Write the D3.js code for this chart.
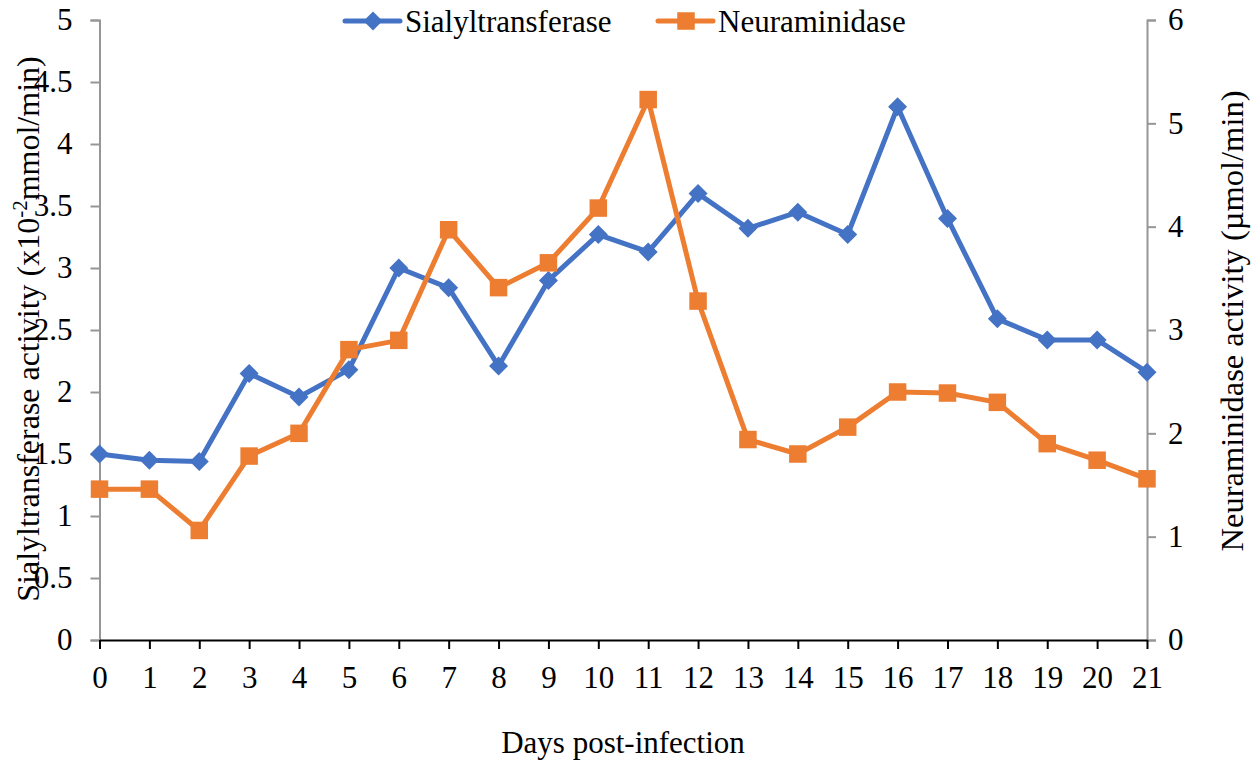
<!DOCTYPE html>
<html>
<head>
<meta charset="utf-8">
<script src="https://cdn.jsdelivr.net/npm/d3@7/dist/d3.min.js"></script>
<style>
  html, body { margin: 0; padding: 0; background: #fff; }
  svg { display: block; }
  svg text { font-family: "Liberation Serif", "Times New Roman", serif; }
</style>
</head>
<body>
<svg id="chart" width="1260" height="765"></svg>
<script>
// Days post-infection
const days = [0, 1, 2, 3, 4, 5, 6, 7, 8, 9, 10, 11, 12, 13, 14, 15, 16, 17, 18, 19, 20, 21];
// Sialyltransferase activity (x10^-2 mmol/min), left axis
const sialyltransferase = [1.50, 1.45, 1.44, 2.15, 1.96, 2.18, 3.00, 2.84, 2.21, 2.90, 3.27, 3.13,
                           3.60, 3.32, 3.45, 3.27, 4.30, 3.40, 2.59, 2.42, 2.42, 2.16];
// Neuraminidase activity (µmol/min), right axis
const neuraminidase = [1.46, 1.46, 1.06, 1.78, 2.00, 2.81, 2.90, 3.97, 3.41, 3.65, 4.18, 5.23,
                       3.28, 1.94, 1.80, 2.06, 2.40, 2.39, 2.30, 1.90, 1.74, 1.56];
const leftTicks = [0, 0.5, 1, 1.5, 2, 2.5, 3, 3.5, 4, 4.5, 5];
const rightTicks = [0, 1, 2, 3, 4, 5, 6];
const seriesNames = ["Sialyltransferase", "Neuraminidase"];

const BLUE = "#4472C4", ORANGE = "#ED7D31", GRAY = "#969696";
const FS = 31;
const FONT = "Liberation Serif";

const svg = d3.select("#chart");
const plot = { left: 99.5, right: 1147, top: 20, bottom: 640 };

const x = d3.scaleLinear().domain([0, 21]).range([plot.left, plot.right]);
const yL = d3.scaleLinear().domain([0, 5]).range([plot.bottom, plot.top]);
const yR = d3.scaleLinear().domain([0, 6]).range([plot.bottom, plot.top]);

// Left axis
const gL = svg.append("g").attr("transform", `translate(${plot.left},0)`)
  .call(d3.axisLeft(yL).tickValues(leftTicks).tickSize(9).tickPadding(18)
        .tickFormat(d => String(d)));
// Right axis
const gR = svg.append("g").attr("transform", `translate(${plot.right},0)`)
  .call(d3.axisRight(yR).tickValues(rightTicks).tickSize(9).tickPadding(12)
        .tickFormat(d => String(d)));
// Bottom axis
const gX = svg.append("g").attr("transform", `translate(0,${plot.bottom})`)
  .call(d3.axisBottom(x).tickValues(days).tickSize(9).tickSizeOuter(0).tickPadding(17)
        .tickFormat(d => String(d)));

[gL, gR, gX].forEach(g => {
  g.attr("font-family", FONT).attr("font-size", FS);
  g.selectAll(".tick text").attr("fill", "#000");
});
[gL, gR].forEach(g => {
  g.select(".domain").attr("stroke", GRAY).attr("stroke-width", 2);
  g.selectAll(".tick line").attr("stroke", GRAY).attr("stroke-width", 2);
});
gX.select(".domain").attr("stroke", "#000").attr("stroke-width", 2);
gX.selectAll(".tick line").attr("stroke", "#000").attr("stroke-width", 2);

// Series lines and markers
const diamond = d3.symbol().type(d3.symbolDiamond2).size(230);
const square = d3.symbol().type(d3.symbolSquare2).size(390);

function drawSeries(values, yScale, color, sym) {
  const line = d3.line().x((d, i) => x(days[i])).y(d => yScale(d));
  svg.append("path").datum(values).attr("d", line)
    .attr("fill", "none").attr("stroke", color).attr("stroke-width", 5)
    .attr("stroke-linejoin", "round");
  svg.append("g").selectAll("path").data(values).join("path")
    .attr("transform", (d, i) => `translate(${x(days[i])},${yScale(d)})`)
    .attr("d", sym).attr("fill", color);
}
drawSeries(sialyltransferase, yL, BLUE, diamond);
drawSeries(neuraminidase, yR, ORANGE, square);

// Legend
const legend = [
  { name: seriesNames[0], color: BLUE, sym: diamond, x0: 345 },
  { name: seriesNames[1], color: ORANGE, sym: square, x0: 658 }
];
const lg = svg.append("g").attr("font-family", FONT);
legend.forEach(l => {
  lg.append("line").attr("x1", l.x0).attr("x2", l.x0 + 55).attr("y1", 21).attr("y2", 21)
    .attr("stroke", l.color).attr("stroke-width", 5).attr("stroke-linecap", "round");
  lg.append("path").attr("transform", `translate(${l.x0 + 28},21)`).attr("d", l.sym).attr("fill", l.color);
  lg.append("text").attr("x", l.x0 + 60).attr("y", 32).attr("font-size", FS)
    .attr("font-family", FONT).text(l.name);
});

// Axis titles
svg.append("text").attr("x", 623).attr("y", 753).attr("text-anchor", "middle")
  .attr("font-family", FONT).attr("font-size", FS).text("Days post-infection");

const tL = svg.append("text").attr("transform", "translate(39,329) rotate(-90)")
  .attr("text-anchor", "middle").attr("font-family", FONT).attr("font-size", 32);
tL.append("tspan").text("Sialyltransferase activity (x10");
tL.append("tspan").attr("font-size", 21).attr("dy", -12).text("-2");
tL.append("tspan").attr("dy", 12).text("mmol/min)");

svg.append("text").attr("transform", "translate(1243,321) rotate(-90)")
  .attr("text-anchor", "middle").attr("font-family", FONT).attr("font-size", 32.5)
  .text("Neuraminidase activity (µmol/min)");
</script>
</body>
</html>
